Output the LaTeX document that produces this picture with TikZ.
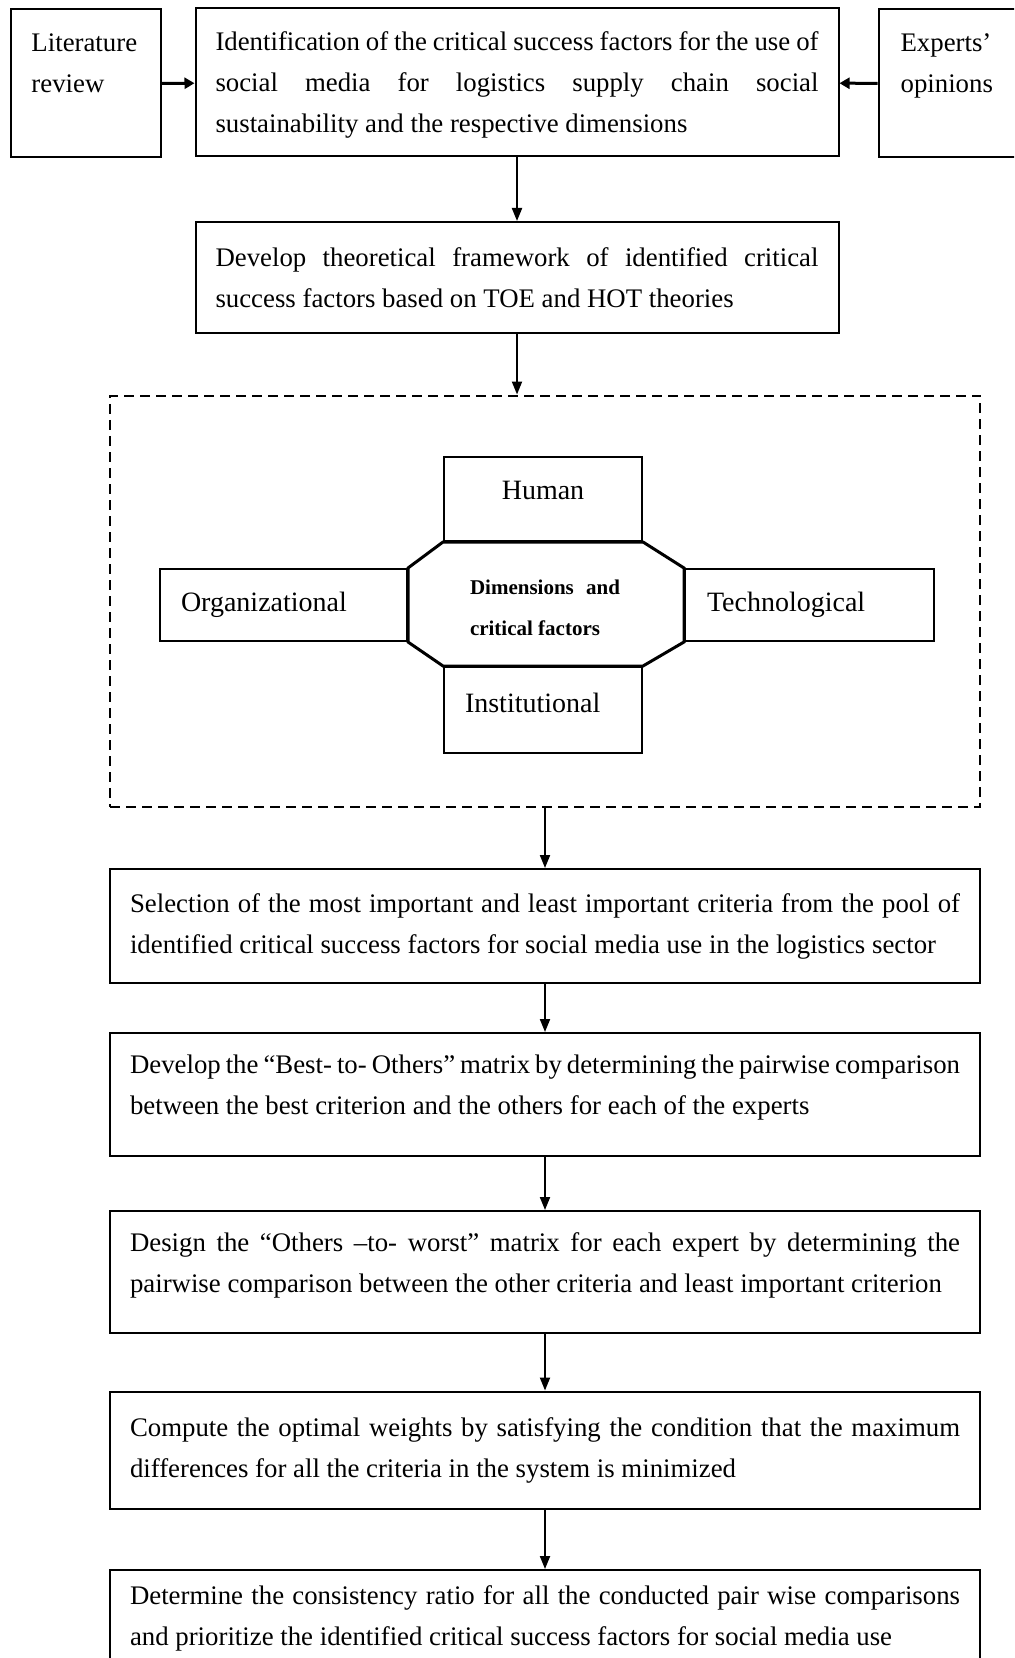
\documentclass[tikz,border=0pt]{standalone}
\usepackage{fontspec}
\setmainfont{Liberation Serif}
\usetikzlibrary{arrows.meta}

\begin{document}
\begin{tikzpicture}[x=0.5pt,y=0.5pt,yscale=-1,xscale=1,
    box/.style={draw, line width=1pt, inner sep=0pt, align=justify, font=\fontsize{13.4}{20.5}\selectfont},
    dimbox/.style={draw, line width=1pt, inner sep=0pt, font=\fontsize{14}{20.5}\selectfont},
    flow/.style={line width=1pt, -{Triangle[length=6.5pt,width=5pt]}},
    side/.style={line width=1.5pt, -{Triangle[length=5pt,width=5.5pt]}}]
    \useasboundingbox (0,0) rectangle (1014,1658);
    \clip (0,0) rectangle (1014,1658);

    %Shape: Rectangle
    \node [box, minimum width=321.5pt, minimum height=74pt, text width=301.5pt, text height=12.2pt] (ident) at (517,82.5) {Identification of the critical success factors for the use of\linebreak social media for logistics supply chain social\linebreak sustainability and the respective dimensions};
    %Shape: Rectangle
    \node [box, align=left, anchor=north west, minimum width=75.25pt, text width=54.25pt, text height=21pt, text depth=53pt] (lit) at (9.5,8.5) {Literature\\review};
    %Shape: Rectangle
    \node [box, align=left, anchor=north west, minimum width=85pt, text width=63pt, text height=21pt, text depth=53pt] (experts) at (877.6,8.5) {Experts’\\opinions};
    %Shape: Rectangle
    \node [box, minimum width=321.5pt, minimum height=55.5pt, text width=301.5pt] (framework) at (517,277.5) {Develop theoretical framework of identified critical\linebreak success factors based on TOE and HOT theories};

    %Shape: Rectangle (dashed frame)
    \node [draw, line width=1pt, dash pattern=on 5pt off 3pt, inner sep=0pt, minimum width=435pt, minimum height=205.75pt] (frame) at (545,601.25) {};
    %Shape: Rectangle
    \node [dimbox, align=center, minimum width=99pt, minimum height=42pt, text height=9.5pt, text depth=9pt] (human) at (543,499) {Human};
    %Shape: Rectangle
    \node [dimbox, align=left, minimum width=123.5pt, minimum height=36pt, text width=102.5pt] (org) at (283.5,605) {Organizational};
    %Shape: Rectangle
    \node [dimbox, align=left, minimum width=124.5pt, minimum height=36pt, text width=102.5pt] (tech) at (809.5,605) {Technological};
    %Shape: Rectangle
    \node [dimbox, align=left, minimum width=99pt, minimum height=43pt, text width=78pt, text height=9.5pt, text depth=7pt] (inst) at (543,710) {Institutional};
    %Shape: Octagon
    \draw [line width=1.5pt] (human.south west) -- (human.south east) -- (tech.north west) -- (tech.south west) -- (inst.north east) -- (inst.north west) -- (org.south east) -- (org.north east) -- cycle;
    % Text Node
    \node [inner sep=0pt, align=justify, text width=75pt, font=\bfseries\fontsize{10.5}{20.5}\selectfont] (core) at (545,608) {Dimensions and\linebreak critical factors};

    %Shape: Rectangle
    \node [box, minimum width=435pt, minimum height=57pt, text width=415pt] (select) at (545,926) {Selection of the most important and least important criteria from the pool of\linebreak identified critical success factors for social media use in the logistics sector};
    %Shape: Rectangle
    \node [box, minimum width=435pt, minimum height=61.5pt, text width=415pt, text depth=30pt] (bto) at (545,1094.5) {Develop the “Best- to- Others” matrix by determining the pairwise comparison\linebreak between the best criterion and the others for each of the experts};
    %Shape: Rectangle
    \node [box, minimum width=435pt, minimum height=61pt, text width=415pt, text depth=30pt] (otw) at (545,1272) {Design the “Others –to- worst” matrix for each expert by determining the\linebreak pairwise comparison between the other criteria and least important criterion};
    %Shape: Rectangle
    \node [box, minimum width=435pt, minimum height=58.5pt, text width=415pt] (weights) at (545,1450) {Compute the optimal weights by satisfying the condition that the maximum\linebreak differences for all the criteria in the system is minimized};
    %Shape: Rectangle
    \node [box, minimum width=435pt, minimum height=48pt, text width=415pt] (consist) at (545,1618) {Determine the consistency ratio for all the conducted pair wise comparisons\linebreak and prioritize the identified critical success factors for social media use};

    %Straight Lines
    \draw [side] (lit) -- (ident);
    \draw [side] (experts) -- (ident);
    \draw [flow] (ident) -- (framework);
    \draw [flow] (framework) -- (framework.south |- frame.north);
    \draw [flow] (frame) -- (select);
    \draw [flow] (select) -- (bto);
    \draw [flow] (bto) -- (otw);
    \draw [flow] (otw) -- (weights);
    \draw [flow] (weights) -- (consist);
\end{tikzpicture}
\end{document}
